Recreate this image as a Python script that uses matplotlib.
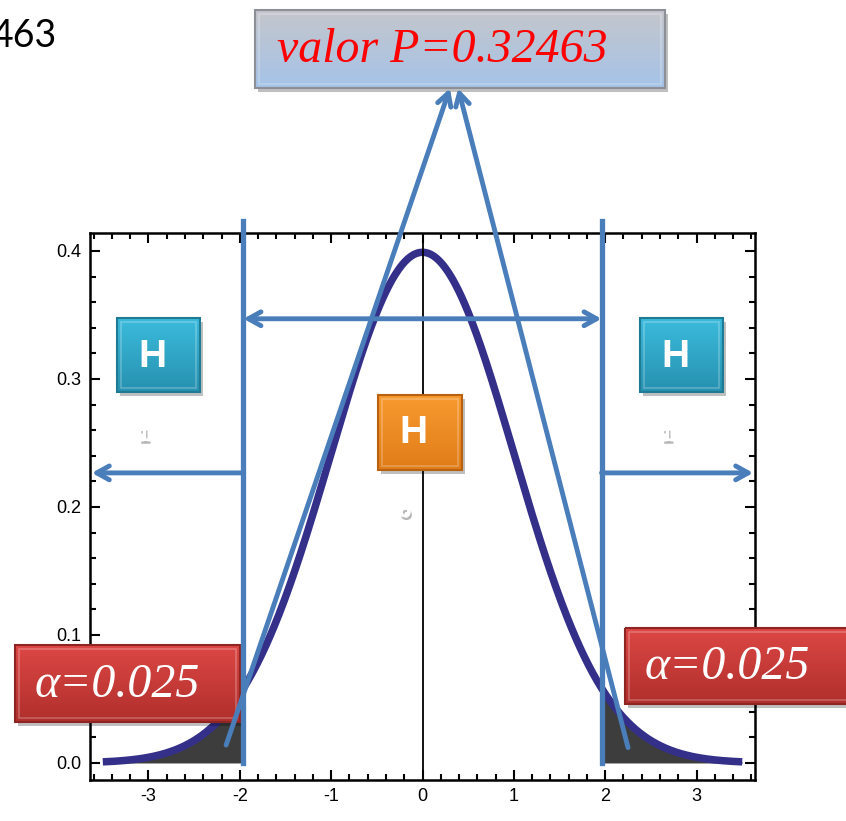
import numpy as np
import matplotlib
matplotlib.use('Agg')
import matplotlib.pyplot as plt
import matplotlib.patheffects as pe
from matplotlib.patches import Rectangle
from matplotlib.ticker import MultipleLocator

# Chart values
mu, sigma = 0.0, 1.0
curve_range = [-3.5, 3.5]
x_ticks = [-3, -2, -1, 0, 1, 2, 3]
y_ticks = [0.0, 0.1, 0.2, 0.3, 0.4]
z_crit = 1.96
alpha_text = 'α=0.025'
p_text = 'valor P=0.32463'
corner_text = '463'

# annotation geometry (data units)
crit_line_top = 0.423
range_arrow_y = 0.347
reject_arrow_y = 0.2266
p_line_base = [(-2.15, 0.014), (2.25, 0.012)]
p_line_tip = [(0.30, 0.527), (0.39, 0.527)]

W, H = 846, 821
fig = plt.figure(figsize=(W / 100, H / 100), dpi=100)
plt.rcParams['axes.unicode_minus'] = False

# ---- main density plot
ax = fig.add_axes([90 / W, (H - 780) / H, (755 - 90) / W, (780 - 233) / H], zorder=1)
x = np.linspace(curve_range[0], curve_range[1], 600)
pdf = np.exp(-0.5 * ((x - mu) / sigma) ** 2) / (sigma * np.sqrt(2 * np.pi))
ax.fill_between(x, 0, pdf, where=(x <= -z_crit), color='#3d3d3d', lw=0)
ax.fill_between(x, 0, pdf, where=(x >= z_crit), color='#3d3d3d', lw=0)
ax.plot(x, pdf, color='#34308a', lw=5.4, solid_capstyle='butt')
ax.axvline(0, color='black', lw=1.3)
ax.set_xlim(-3.64, 3.64)
ax.set_ylim(-0.0133, 0.414)
ax.set_xticks(x_ticks)
ax.set_yticks(y_ticks)
ax.set_yticklabels([f'{v:.1f}' for v in y_ticks])
ax.xaxis.set_minor_locator(MultipleLocator(0.2))
ax.yaxis.set_minor_locator(MultipleLocator(0.02))
ax.tick_params(which='both', direction='in', top=True, right=True, width=1.5, color='black')
ax.tick_params(which='major', length=7, labelsize=13, pad=6)
ax.tick_params(which='minor', length=4)
for lab in ax.get_xticklabels() + ax.get_yticklabels():
    lab.set_fontfamily('Liberation Sans')
for s in ax.spines.values():
    s.set_linewidth(1.8)

# ---- overlay in pixel coordinates for the boxes
ov = fig.add_axes([0, 0, 1, 1], zorder=2)
ov.patch.set_alpha(0)


def box(x0, y0, x1, y1, top, bottom, edge):
    ov.add_patch(Rectangle((x0 + 3, y0 + 4), x1 - x0, y1 - y0, color='black', alpha=0.25, lw=0))
    c0 = np.array(matplotlib.colors.to_rgb(top))
    c1 = np.array(matplotlib.colors.to_rgb(bottom))
    t = np.linspace(0, 1, 60)[:, None, None]
    grad = c0 + (c1 - c0) * t
    ov.imshow(grad, extent=(x0, x1, y1, y0), aspect='auto', interpolation='bilinear', zorder=2)
    ov.add_patch(Rectangle((x0, y0), x1 - x0, y1 - y0, fill=False, ec=edge, lw=1.5, zorder=3))
    ov.add_patch(Rectangle((x0 + 4, y0 + 4), x1 - x0 - 8, y1 - y0 - 8, fill=False,
                           ec='white', alpha=0.25, lw=1.2, zorder=3))


shadow = [pe.withSimplePatchShadow(offset=(1, -2), shadow_rgbFace='#888888', alpha=0.6), pe.Normal()]

# title box
box(255, 10, 665, 88, '#c4c6cc', '#a5c3e8', '#8c8f96')
ov.text(277, 50, p_text, color='#ff0000', fontsize=34.5, style='italic',
        family='Liberation Serif', ha='left', va='center', zorder=4)

# H1 / H0 boxes
for bx, label in [(117, '1'), (640, '1')]:
    box(bx, 318, bx + 83, 392, '#3bbbdc', '#2791b0', '#1f7a94')
    ov.text(bx + 35, 357, 'H', color='white', fontsize=28, fontweight='bold',
            family='Liberation Sans', ha='center', va='center', zorder=4)
    ov.text(bx + 27, 436, label, color='white', fontsize=13, fontweight='bold',
            ha='center', va='center', path_effects=shadow, zorder=4)
box(378, 395, 462, 470, '#f89a30', '#e07c18', '#b8620f')
ov.text(413, 433, 'H', color='white', fontsize=28, fontweight='bold',
        family='Liberation Sans', ha='center', va='center', zorder=4)
ov.text(405, 512, 'o', color='white', fontsize=13, fontweight='bold',
        ha='center', va='center', path_effects=shadow, zorder=4)

# alpha boxes
box(15, 645, 240, 722, '#dc4744', '#b02f2c', '#8e2523')
ov.text(35, 685, alpha_text, color='white', fontsize=34.5, style='italic',
        family='Liberation Serif', ha='left', va='center', zorder=4)
box(625, 628, 860, 704, '#dc4744', '#b02f2c', '#8e2523')
ov.text(645, 667, alpha_text, color='white', fontsize=34.5, style='italic',
        family='Liberation Serif', ha='left', va='center', zorder=4)

ov.text(57, 36, corner_text, color='black', fontsize=27, family='Lato',
        ha='right', va='center', zorder=4)
ov.set_xlim(0, W)
ov.set_ylim(H, 0)
ov.axis('off')

# ---- blue annotation lines on top, in data coordinates
at = fig.add_axes(ax.get_position(), zorder=3)
at.patch.set_alpha(0)
at.set_xlim(ax.get_xlim())
at.set_ylim(ax.get_ylim())
at.axis('off')
blue = '#4a7ebb'
for xc in (-z_crit, z_crit):
    at.plot([xc, xc], [0, crit_line_top], color=blue, lw=3.8, clip_on=False)
arrow = dict(color=blue, lw=3.5, shrinkA=0, shrinkB=0)
at.annotate('', xy=(z_crit, range_arrow_y), xytext=(-z_crit, range_arrow_y),
            arrowprops=dict(arrowstyle='<->,head_length=0.9,head_width=0.5', **arrow))
at.annotate('', xy=(ax.get_xlim()[0] + 0.02, reject_arrow_y), xytext=(-z_crit, reject_arrow_y),
            arrowprops=dict(arrowstyle='->,head_length=0.9,head_width=0.5', **arrow))
at.annotate('', xy=(ax.get_xlim()[1] - 0.02, reject_arrow_y), xytext=(z_crit, reject_arrow_y),
            arrowprops=dict(arrowstyle='->,head_length=0.9,head_width=0.5', **arrow))
for base, tip in zip(p_line_base, p_line_tip):
    at.annotate('', xy=tip, xytext=base, annotation_clip=False,
                arrowprops=dict(arrowstyle='->,head_length=0.9,head_width=0.5', **arrow))

fig.savefig('out.png', dpi=100)
